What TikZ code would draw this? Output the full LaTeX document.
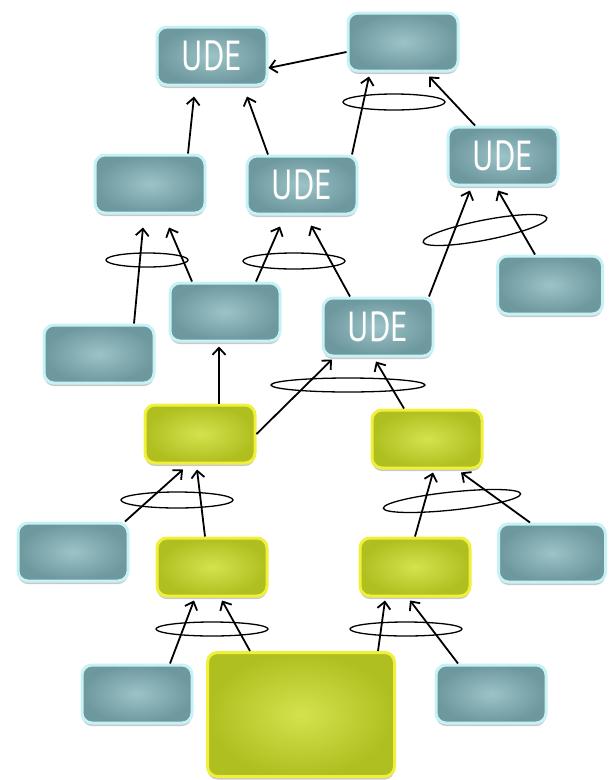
\documentclass[tikz,border=0pt]{standalone}
\usepackage{fontspec}
\newfontfamily\udefont[FakeStretch=0.78]{PT Sans}
\usetikzlibrary{arrows.meta,shadows}
\definecolor{tealin}{HTML}{9CC3C8}
\definecolor{tealout}{HTML}{6D989E}
\definecolor{tealrim}{HTML}{C6F2F6}
\definecolor{limein}{HTML}{D4E24E}
\definecolor{limeout}{HTML}{AFBF1F}
\definecolor{limerim}{HTML}{F0F03C}
\tikzset{
  boxbase/.style={rounded corners=10pt, line width=3pt, inner sep=0pt,
    minimum width=110pt, minimum height=58pt, shading=radial,
    drop shadow={shadow xshift=0pt, shadow yshift=-3pt, opacity=0.3, fill=black!70},
    text=white, font=\udefont\fontsize{42}{42}\selectfont},
  tealbox/.style={boxbase, draw=tealrim, inner color=tealin, outer color=tealout},
  limebox/.style={boxbase, draw=limerim, inner color=limein, outer color=limeout},
  arr/.style={line width=1.8pt, -{Straight Barb[length=7pt,width=13pt]}},
  ring/.style={line width=1.3pt}
}
\begin{document}
\begin{tikzpicture}[x=1pt,y=-1pt]
\useasboundingbox (0,0) rectangle (609,780);

% grey-teal blocks
\node[tealbox] (A) at (212,56) {UDE};
\node[tealbox] (B) at (403,42) {};
\node[tealbox] (C) at (150,184) {};
\node[tealbox] (D) at (302,185) {UDE};
\node[tealbox] (E) at (503,156) {UDE};
\node[tealbox, minimum width=105pt] (F) at (550,285) {};
\node[tealbox] (G) at (225,312) {};
\node[tealbox] (H) at (378,327) {UDE};
\node[tealbox] (I) at (99,354) {};
\node[tealbox] (L) at (73,552) {};
\node[tealbox, minimum width=107pt] (O) at (552,553) {};
\node[tealbox] (P) at (137,694) {};
\node[tealbox] (R) at (491,694) {};

% lime blocks
\node[limebox] (J) at (200,434) {};
\node[limebox] (K) at (427,439) {};
\node[limebox] (M) at (212,567) {};
\node[limebox] (N) at (415,567) {};
\node[limebox, minimum width=187pt, minimum height=124pt] (Q) at (301,714.5) {};

% connectors
\draw[arr] ([yshift=-10pt]B.west) -- ([yshift=-12pt]A.east);
\draw[arr] ([xshift=38pt]C.north) -- ([xshift=-18pt,yshift=-10pt]A.south);
\draw[arr] ([xshift=-34pt]D.north) -- ([xshift=35pt,yshift=-10pt]A.south);
\draw[arr] ([xshift=50pt]D.north) -- ([xshift=-34pt,yshift=-4pt]B.south);
\draw[arr] ([xshift=-28pt]E.north) -- ([xshift=26pt,yshift=-4pt]B.south);
\draw[arr] ([xshift=51pt]H.north) -- ([xshift=-33pt,yshift=-4pt]E.south);
\draw[arr] ([xshift=-15pt]F.north) -- ([xshift=-5pt,yshift=-4pt]E.south);
\draw[arr] ([xshift=35pt]I.north) -- ([xshift=-7pt,yshift=-13pt]C.south);
\draw[arr] ([xshift=-33pt]G.north) -- ([xshift=19pt,yshift=-13pt]C.south);
\draw[arr] ([xshift=31pt]G.north) -- ([xshift=-22pt,yshift=-11pt]D.south);
\draw[arr] ([xshift=-28pt]H.north) -- ([xshift=9pt,yshift=-10pt]D.south);
\draw[arr] ([xshift=19pt]J.north) -- ([xshift=-6pt,yshift=-4pt]G.south);
\draw[arr] (J.east) -- ([xshift=-46pt,yshift=-2pt]H.south);
\draw[arr] ([xshift=-23pt]K.north) -- ([xshift=-2pt,yshift=-4pt]H.south);
\draw[arr] ([xshift=52pt]L.north) -- ([xshift=-17pt,yshift=-5pt]J.south);
\draw[arr] ([xshift=-7pt]M.north) -- ([xshift=-3pt,yshift=-5pt]J.south);
\draw[arr] (N.north) -- ([xshift=6pt,yshift=-3pt]K.south);
\draw[arr] ([xshift=-22pt]O.north) -- ([xshift=34pt,yshift=-3pt]K.south);
\draw[arr] ([xshift=33pt]P.north) -- ([xshift=-18pt,yshift=-3pt]M.south);
\draw[arr] ([xshift=-51pt]Q.north) -- ([xshift=10pt,yshift=-3pt]M.south);
\draw[arr] ([xshift=77pt]Q.north) -- ([xshift=-30pt,yshift=-3pt]N.south);
\draw[arr] ([xshift=-33pt]R.north) -- ([xshift=-5pt,yshift=-3pt]N.south);

% "and" rings grouping paired causes
\draw[ring] (394,102) ellipse [x radius=51, y radius=8];
\draw[ring, shift={(485,230)}, rotate=11] (0,0) ellipse [x radius=63, y radius=10];
\draw[ring] (147,260) ellipse [x radius=41, y radius=7];
\draw[ring] (294,261) ellipse [x radius=51, y radius=8];
\draw[ring] (348,385) ellipse [x radius=77, y radius=7];
\draw[ring] (177,500) ellipse [x radius=56, y radius=8];
\draw[ring, shift={(452,501)}, rotate=6] (0,0) ellipse [x radius=69, y radius=9];
\draw[ring] (212,629) ellipse [x radius=56, y radius=7];
\draw[ring] (406,629) ellipse [x radius=56, y radius=7];
\end{tikzpicture}
\end{document}
